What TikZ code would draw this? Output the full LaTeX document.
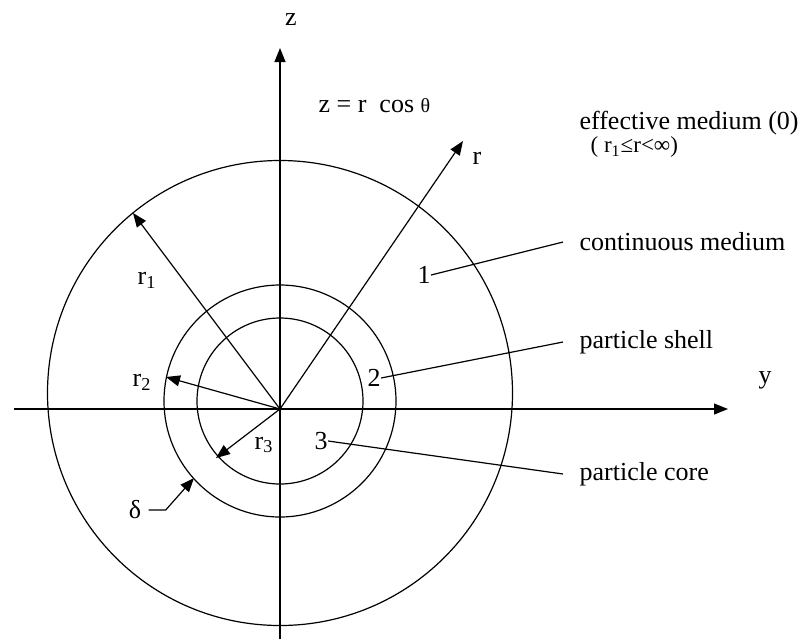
\documentclass[tikz,border=0pt]{standalone}
\usepackage{fontspec}
\setmainfont{Liberation Serif}
\usetikzlibrary{arrows.meta}

\begin{document}
\begin{tikzpicture}[
    x=0.5pt, y=-0.5pt,
    line width=0.6pt,
    vec/.style={-{Triangle[length=7pt, width=5.5pt]}},
    lbl/.style={inner sep=0pt, font=\fontsize{13}{15}\selectfont},
    note/.style={anchor=west, inner xsep=8pt, inner ysep=0pt, font=\fontsize{13}{15}\selectfont}
]
    \useasboundingbox (0,0) rectangle (800,639);

    % centre and the three spheres
    \coordinate (O) at (280,409);
    \coordinate (c1) at (280,393);
    \coordinate (c23) at (280,401);
    \draw (c1) circle[radius=232.5];
    \draw (c23) circle[radius=116];
    \draw (c23) circle[radius=83];

    % axes
    \coordinate (zlow) at (280,639);
    \coordinate (ztop) at (280,48);
    \coordinate (yleft) at (14,409);
    \coordinate (yright) at (728,409);
    \draw[vec] (zlow) -- (ztop);
    \draw[vec] (yleft) -- (yright);
    \node[lbl] (zlab) at (291,20) {z};
    \node[lbl] (ylab) at (765,380) {y};

    % radii
    \coordinate (r1tip) at (133,213);
    \coordinate (rtip) at (463,141);
    \coordinate (r2tip) at (166,377);
    \coordinate (r3tip) at (216,458);
    \draw[vec] (O) -- (r1tip);
    \draw[vec] (O) -- (rtip);
    \draw[vec] (O) -- (r2tip);
    \draw[vec] (O) -- (r3tip);
    \node[lbl] (r1lab) at (147,280) {r\textsubscript{1}};
    \node[lbl] (rlab) at (477,158) {r};
    \node[lbl] (r2lab) at (142,382) {r\textsubscript{2}};
    \node[lbl] (r3lab) at (264,445) {r\textsubscript{3}};
    \node[lbl, anchor=west] (zeq) at (318,106) {z = r \ cos {\fontsize{10}{12}\selectfont θ}};

    % shell thickness
    \coordinate (dtip) at (194,478);
    \node[lbl, inner xsep=3.5pt] (delta) at (135,510) {δ};
    \draw[vec] (delta.east) -- ++(17,0) -- (dtip);

    % regions
    \node[lbl] (one) at (424,275) {1};
    \node[lbl] (two) at (374,378) {2};
    \node[lbl] (three) at (321,441) {3};
    \node[note] (eff) at (563,123) {effective medium (0)};
    \node[note, font=\fontsize{11.5}{13}\selectfont] (effrange) at (574,147) {( r\textsubscript{1}≤r<∞)};
    \node[note] (cont) at (563,242) {continuous medium};
    \node[note] (shell) at (563,342) {particle shell};
    \node[note] (core) at (563,474) {particle core};
    \draw (one.east) -- (cont.west);
    \draw (two.east) -- (shell.west);
    \draw (three.east) -- (core.west);
\end{tikzpicture}
\end{document}
